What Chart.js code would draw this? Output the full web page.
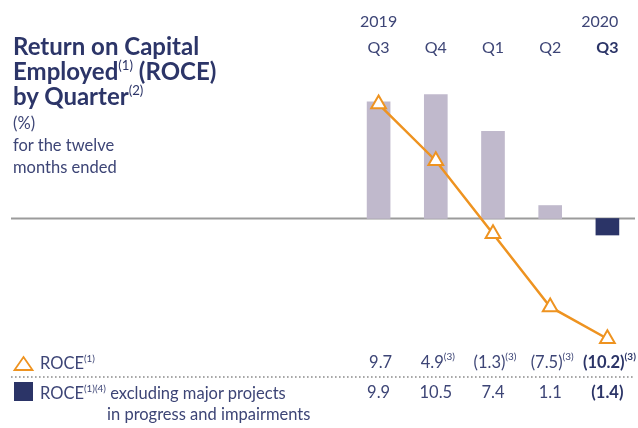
<!DOCTYPE html>
<html>
<head>
<meta charset="utf-8">
<script src="https://cdn.jsdelivr.net/npm/chart.js@4"></script>
<style>
  html, body { margin: 0; padding: 0; background: #fff; }
  #wrap { position: relative; width: 638px; height: 428px; overflow: hidden; }
  #roceChart { position: absolute; left: 0; top: 0; }
  .title { position: absolute; left: 13px; top: 33px; font-family: Lato, sans-serif; font-weight: 700;
           font-size: 24px; line-height: 25px; color: #2c3568; }
  .title sup { font-size: 0.55em; font-weight: 400; vertical-align: 0.75em; line-height: 0; }
  .lbl sup { font-size: 0.6em; vertical-align: 0.7em; line-height: 0; }
  .sub { position: absolute; left: 13px; top: 112px; font-family: Lato, sans-serif; font-weight: 400;
         font-size: 16.5px; line-height: 22px; color: #3d4576; }
  .lbl { position: absolute; font-family: Lato, sans-serif; font-weight: 400;
         font-size: 16.5px; color: #3d4576; white-space: nowrap; }
</style>
</head>
<body>
<div id="wrap">
  <canvas id="roceChart"></canvas>
  <div class="title">Return on Capital<br>Employed<sup>(1)</sup> (ROCE)<br>by Quarter<sup>(2)</sup></div>
  <div class="sub">(%)<br>for the twelve<br>months ended</div>
  <div class="lbl" style="left:40px; top:353px;">ROCE<sup>(1)</sup></div>
  <div class="lbl" style="left:40px; top:383px;">ROCE<sup>(1)(4)</sup> excluding major projects</div>
  <div class="lbl" style="left:107px; top:404px;">in progress and impairments</div>
</div>
<script>
window.addEventListener('load', function() {
    var canvas = document.getElementById('roceChart');
    canvas.width = 638;
    canvas.height = 428;
    var context = canvas.getContext('2d');

    // data
    var quarters = ['Q3', 'Q4', 'Q1', 'Q2', 'Q3'];
    var years = ['2019', '', '', '', '2020'];
    var roce = [9.7, 4.9, -1.3, -7.5, -10.2];
    var roceExcl = [9.9, 10.5, 7.4, 1.1, -1.4];
    var roceNotes = ['', '(3)', '(3)', '(3)', '(3)'];

    var navy = '#2b3467';
    var textColor = '#3d4576';
    var orange = '#ee9320';
    var barColors = ['#c0b9cc', '#c0b9cc', '#c0b9cc', '#c0b9cc', navy];

    // numbers shown as (x.x) when negative
    function fmt(v) {
        var s = Math.abs(v).toFixed(1);
        return v < 0 ? '(' + s + ')' : s;
    }

    function drawValue(ctx, x, y, main, note, bold) {
        var mainFont = (bold ? 'bold ' : '') + '16.5px Lato';
        var noteFont = (bold ? 'bold ' : '') + '10px Lato';
        ctx.font = mainFont;
        var w1 = ctx.measureText(main).width;
        ctx.font = noteFont;
        var w2 = note ? ctx.measureText(note).width : 0;
        var start = x - (w1 + w2) / 2;
        ctx.textAlign = 'left';
        ctx.textBaseline = 'middle';
        ctx.font = mainFont;
        ctx.fillText(main, start, y);
        if (note) {
            ctx.font = noteFont;
            ctx.fillText(note, start + w1, y - 6);
        }
    }

    var decorations = {
        id: 'decorations',
        beforeDatasetsDraw: function(chart) {
            var ctx = chart.ctx;
            var y0 = chart.scales.y.getPixelForValue(0);
            ctx.save();
            ctx.strokeStyle = '#9b9b9b';
            ctx.lineWidth = 2;
            ctx.beginPath();
            ctx.moveTo(11, y0);
            ctx.lineTo(chart.chartArea.right - 1, y0);
            ctx.stroke();
            ctx.restore();
        },
        afterDraw: function(chart) {
            var ctx = chart.ctx;
            var xs = chart.scales.x;
            ctx.save();
            ctx.fillStyle = textColor;

            // column headers
            for (var i = 0; i < quarters.length; i++) {
                var x = xs.getPixelForValue(i);
                var last = i === quarters.length - 1;
                ctx.textBaseline = 'middle';
                ctx.font = '16px Lato';
                if (years[i]) {
                    ctx.textAlign = last ? 'right' : 'center';
                    ctx.fillText(years[i], last ? x + 11 : x, 22);
                }
                ctx.font = (last ? 'bold ' : '') + '16px Lato';
                ctx.fillStyle = last ? navy : textColor;
                ctx.textAlign = 'center';
                ctx.fillText(quarters[i], x, 48);
                ctx.fillStyle = textColor;
            }

            // table values
            for (var j = 0; j < roce.length; j++) {
                var cx = xs.getPixelForValue(j);
                var lastCol = j === roce.length - 1;
                ctx.fillStyle = lastCol ? navy : textColor;
                drawValue(ctx, cx + 2, 363, fmt(roce[j]), roceNotes[j], lastCol);
                drawValue(ctx, cx, 393, fmt(roceExcl[j]), '', lastCol);
            }

            // dotted separator
            ctx.strokeStyle = '#8c8c8c';
            ctx.lineWidth = 1.6;
            ctx.setLineDash([1.6, 2.4]);
            ctx.beginPath();
            ctx.moveTo(11, 377);
            ctx.lineTo(634, 377);
            ctx.stroke();
            ctx.setLineDash([]);

            // legend markers
            ctx.strokeStyle = orange;
            ctx.lineWidth = 1.8;
            ctx.beginPath();
            ctx.moveTo(23.5, 357);
            ctx.lineTo(32.5, 370);
            ctx.lineTo(14.5, 370);
            ctx.closePath();
            ctx.stroke();
            ctx.fillStyle = navy;
            ctx.fillRect(14, 382, 19, 19);
            ctx.restore();
        }
    };

    var chart = new Chart(context, {
        data: {
            labels: quarters,
            datasets: [{
                type: 'line',
                label: 'ROCE',
                data: roce,
                borderColor: orange,
                borderWidth: 2.5,
                pointStyle: 'triangle',
                pointRadius: 8.5,
                pointBorderWidth: 2,
                pointBackgroundColor: '#ffffff',
                pointBorderColor: orange,
                tension: 0,
                clip: false,
                order: 0
            }, {
                type: 'bar',
                label: 'ROCE excluding major projects in progress and impairments',
                data: roceExcl,
                backgroundColor: barColors,
                barThickness: 23,
                order: 1
            }]
        },
        options: {
            responsive: false,
            animation: false,
            layout: { autoPadding: false, padding: { left: 350, right: 2, top: 77, bottom: 68 } },
            plugins: { legend: { display: false }, tooltip: { enabled: false } },
            scales: {
                x: { display: false, offset: true, grid: { display: false } },
                y: { display: false, min: -12, max: 12, grid: { display: false } }
            }
        },
        plugins: [decorations]
    });
});
</script>
</body>
</html>
